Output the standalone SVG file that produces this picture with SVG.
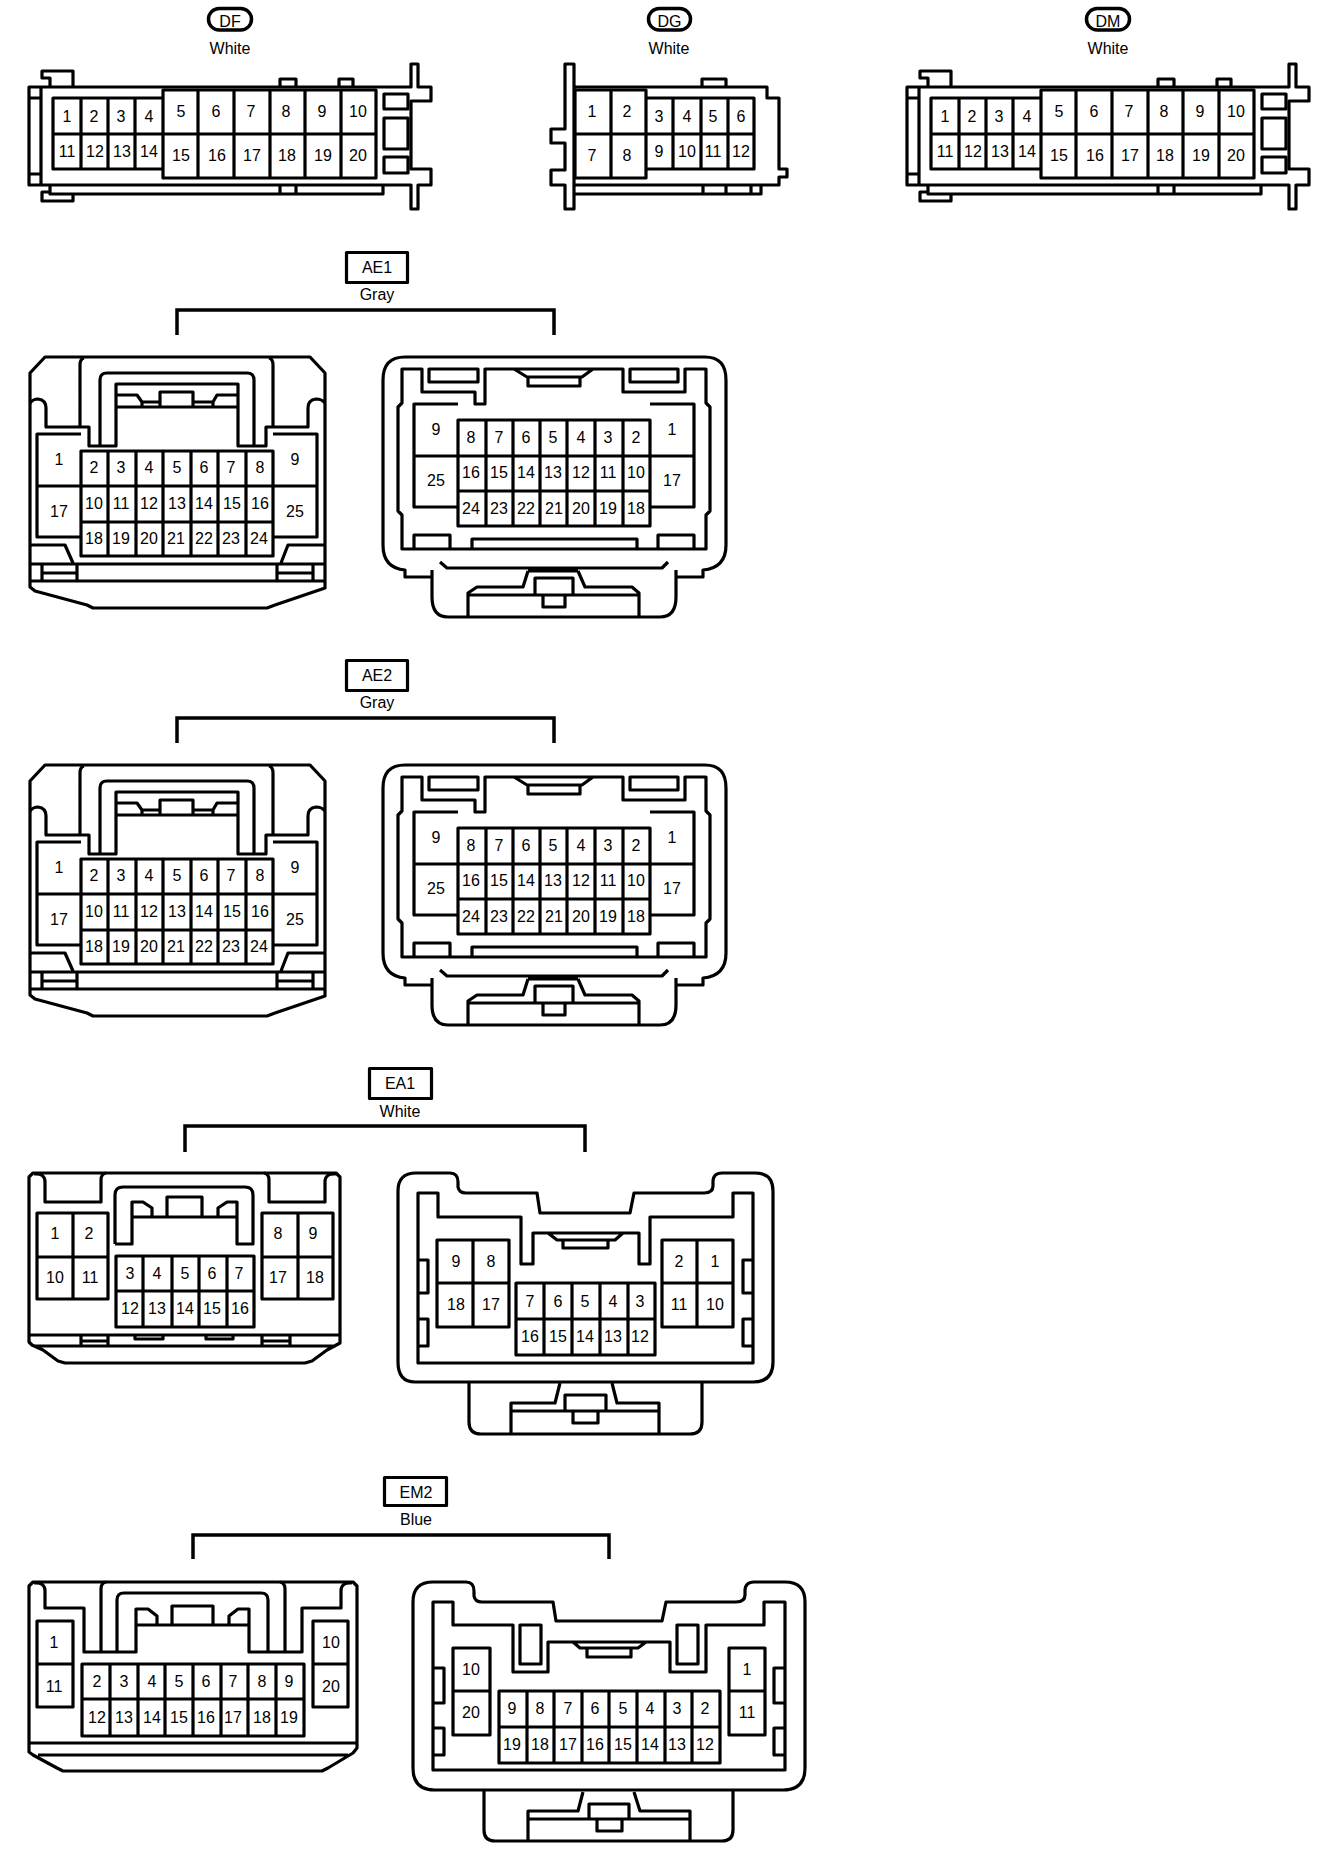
<svg xmlns="http://www.w3.org/2000/svg" width="1344" height="1868" viewBox="0 0 1344 1868">
<style>
.l{fill:none;stroke:#000;stroke-width:3.2;stroke-linejoin:round}
.p{fill:none;stroke:#000;stroke-width:3.5}
.b{fill:none;stroke:#000;stroke-width:3.5;stroke-linejoin:miter}
text{font-family:"Liberation Sans",Arial,sans-serif;font-size:16px;fill:#000;text-anchor:middle}
</style>
<rect width="1344" height="1868" fill="#fff"/>
<g id="connectors">
<path class="b" d="M177 335V310H554V335"/>
<path class="b" d="M177 743V718H554V743"/>
<path class="b" d="M185 1152V1126H585V1152"/>
<path class="b" d="M193 1559V1535H609V1559"/>
</g>
<g id="DF-label"><rect class="p" x="208.500" y="8.500" width="43" height="21.500" rx="10.700"/><text x="230" y="27">DF</text><text x="230" y="54">White</text></g>
<g id="DG-label"><rect class="p" x="648.500" y="8.500" width="42" height="21.500" rx="10.700"/><text x="669.500" y="27">DG</text><text x="669" y="54">White</text></g>
<g id="DM-label"><rect class="p" x="1086.500" y="8.500" width="43" height="21.500" rx="10.700"/><text x="1108" y="27">DM</text><text x="1108" y="54">White</text></g>
<g id="AE1-label"><rect class="l" x="346.500" y="252.500" width="61" height="30"/><text x="377" y="273">AE1</text><text x="377" y="300">Gray</text></g>
<g id="AE2-label"><rect class="l" x="346.500" y="660.500" width="61" height="30"/><text x="377" y="681">AE2</text><text x="377" y="708">Gray</text></g>
<g id="EA1-label"><rect class="l" x="369.500" y="1068.500" width="62" height="30"/><text x="400" y="1089">EA1</text><text x="400" y="1117">White</text></g>
<g id="EM2-label"><rect class="l" x="384.500" y="1477.500" width="62" height="28"/><text x="416" y="1498">EM2</text><text x="416" y="1525">Blue</text></g>

<g id="DF">
<path class="l" d="M29 87H411V64H418V87H431V101H411V169H431V185H418V209H411V185H29ZM41 87V185M29 98H41M29 174H41M50 185V194H383V185M73 87V71H42V78H50V87M50 192H42V201H73V193M280 87V79H296V87M339 87V79H353V87M280 185V194M296 185V194"/>
<path class="l" d="M384 94H408V109H384ZM384 118H408V149H384ZM384 157H408V173H384Z"/>
<path class="l" d="M163 98H53V169H163M53 134H376M81 98V169M108 98V169M135 98V169M163 90H376V178H163ZM198 90V178M234 90V178M270 90V178M305 90V178M341 90V178"/>
<text x="67" y="122">1</text><text x="94" y="122">2</text><text x="121" y="122">3</text><text x="149" y="122">4</text>
<text x="67" y="157">11</text><text x="95" y="157">12</text><text x="122" y="157">13</text><text x="149" y="157">14</text>
<text x="181" y="117">5</text><text x="216" y="117">6</text><text x="251" y="117">7</text><text x="286" y="117">8</text><text x="322" y="117">9</text><text x="358" y="117">10</text>
<text x="181" y="161">15</text><text x="217" y="161">16</text><text x="252" y="161">17</text><text x="287" y="161">18</text><text x="323" y="161">19</text><text x="358" y="161">20</text>
</g>

<g id="DG">
<path class="l" d="M574 87V64H565V129H551V143H565V170H551V185H565V209H574V185M574 87H767V98H779V169H787V177H779V185H574M574 87V185M574 194H761V185M703 185V194M726 185V194M751 185V194M702 87V79H726V87"/>
<path class="l" d="M575 90H646V178H575ZM575 134H754M611 90V178M646 98H754V169H646M673 98V169M701 98V169M728 98V169"/>
<text x="592" y="117">1</text><text x="627" y="117">2</text><text x="592" y="161">7</text><text x="627" y="161">8</text>
<text x="659" y="122">3</text><text x="687" y="122">4</text><text x="713" y="122">5</text><text x="741" y="122">6</text>
<text x="659" y="157">9</text><text x="687" y="157">10</text><text x="713" y="157">11</text><text x="741" y="157">12</text>
</g>

<g id="DM" transform="translate(878 0)">
<path class="l" d="M29 87H411V64H418V87H431V101H411V169H431V185H418V209H411V185H29ZM41 87V185M29 98H41M29 174H41M50 185V194H383V185M73 87V71H42V78H50V87M50 192H42V201H73V193M280 87V79H296V87M339 87V79H353V87M280 185V194M296 185V194"/>
<path class="l" d="M384 94H408V109H384ZM384 118H408V149H384ZM384 157H408V173H384Z"/>
<path class="l" d="M163 98H53V169H163M53 134H376M81 98V169M108 98V169M135 98V169M163 90H376V178H163ZM198 90V178M234 90V178M270 90V178M305 90V178M341 90V178"/>
<text x="67" y="122">1</text><text x="94" y="122">2</text><text x="121" y="122">3</text><text x="149" y="122">4</text>
<text x="67" y="157">11</text><text x="95" y="157">12</text><text x="122" y="157">13</text><text x="149" y="157">14</text>
<text x="181" y="117">5</text><text x="216" y="117">6</text><text x="251" y="117">7</text><text x="286" y="117">8</text><text x="322" y="117">9</text><text x="358" y="117">10</text>
<text x="181" y="161">15</text><text x="217" y="161">16</text><text x="252" y="161">17</text><text x="287" y="161">18</text><text x="323" y="161">19</text><text x="358" y="161">20</text>
</g>

<g id="AE1-left">
<path class="l" d="M45 357H310L325 373V588L275 605 267 608H93L87 605 35 591 30 587V373ZM30 581H325M30 564H325M42 564V581M77 564V581M42 573H77M277 564V581M313 564V581M277 573H313M30 545H65L73 563M325 545H288L281 563"/>
<path class="l" d="M30 403Q33 399 38 399Q46 400 46 408V427H89V446H116V384H238V446H266V427H308V408Q308 400 316 399Q322 399 325 403M80 427V365Q80 359 84 358M273 427V365Q273 359 269 358M100 446V380Q100 373 107 373H247Q254 373 254 380V446"/>
<path class="l" d="M116 395H137L142 402V407M116 407H238M142 402H160M160 407V392H193V407M193 402H213V407M213 402L217 395H238"/>
<path class="l" d="M81 451H273V556H81ZM81 486H273M81 522H273M108 451V556M136 451V556M163 451V556M191 451V556M218 451V556M246 451V556M81 434H37V537H81M37 486H81M273 434H317V537H273M273 486H317"/>
<text x="59" y="465">1</text><text x="59" y="517">17</text><text x="295" y="465">9</text><text x="295" y="517">25</text>
<text x="94" y="473">2</text><text x="121" y="473">3</text><text x="149" y="473">4</text><text x="177" y="473">5</text><text x="204" y="473">6</text><text x="231" y="473">7</text><text x="260" y="473">8</text>
<text x="94" y="509">10</text><text x="121" y="509">11</text><text x="149" y="509">12</text><text x="177" y="509">13</text><text x="204" y="509">14</text><text x="232" y="509">15</text><text x="260" y="509">16</text>
<text x="94" y="544">18</text><text x="121" y="544">19</text><text x="149" y="544">20</text><text x="176" y="544">21</text><text x="204" y="544">22</text><text x="231" y="544">23</text><text x="259" y="544">24</text>
</g>

<g id="AE1-right">
<path class="l" d="M405 570Q383 568 383 545V380Q383 357 405 357H705Q726 357 726 380V545Q726 568 703 570V577H676V597Q676 617 660 617H448Q432 617 432 597V577H405ZM432 570V577M676 570V577"/>
<path class="l" d="M440 562L447 568H662L668 562M528 571H578M528 571L523 587H477L468 593V617M578 571L585 587H632L639 593V617M468 595H639M535 595V578H573V595M543 595V607H565V595"/>
<path class="l" d="M402 369V403L398 407V511L402 515V549H706V515L710 511V407L706 403V369H685V392H623V369H485V404H475V392H422V369ZM514 369L527 377H582L593 369M429 369H478V382H429ZM630 369H678V382H630ZM528 378V386H580V378"/>
<path class="l" d="M414 549V535H450V549M658 549V535H694V549M472 549V539H637V549"/>
<path class="l" d="M458 420H650V526H458ZM458 456H650M458 491H650M486 420V526M513 420V526M540 420V526M567 420V526M595 420V526M623 420V526M458 404H414V507H458M414 456H458M650 404H694V507H650M650 456H694"/>
<text x="436" y="435">9</text><text x="436" y="486">25</text><text x="672" y="435">1</text><text x="672" y="486">17</text>
<text x="471" y="443">8</text><text x="499" y="443">7</text><text x="526" y="443">6</text><text x="553" y="443">5</text><text x="581" y="443">4</text><text x="608" y="443">3</text><text x="636" y="443">2</text>
<text x="471" y="478">16</text><text x="499" y="478">15</text><text x="526" y="478">14</text><text x="553" y="478">13</text><text x="581" y="478">12</text><text x="608" y="478">11</text><text x="636" y="478">10</text>
<text x="471" y="514">24</text><text x="499" y="514">23</text><text x="526" y="514">22</text><text x="554" y="514">21</text><text x="581" y="514">20</text><text x="608" y="514">19</text><text x="636" y="514">18</text>
</g>

<g id="AE2-left" transform="translate(0 408)">
<path class="l" d="M45 357H310L325 373V588L275 605 267 608H93L87 605 35 591 30 587V373ZM30 581H325M30 564H325M42 564V581M77 564V581M42 573H77M277 564V581M313 564V581M277 573H313M30 545H65L73 563M325 545H288L281 563"/>
<path class="l" d="M30 403Q33 399 38 399Q46 400 46 408V427H89V446H116V384H238V446H266V427H308V408Q308 400 316 399Q322 399 325 403M80 427V365Q80 359 84 358M273 427V365Q273 359 269 358M100 446V380Q100 373 107 373H247Q254 373 254 380V446"/>
<path class="l" d="M116 395H137L142 402V407M116 407H238M142 402H160M160 407V392H193V407M193 402H213V407M213 402L217 395H238"/>
<path class="l" d="M81 451H273V556H81ZM81 486H273M81 522H273M108 451V556M136 451V556M163 451V556M191 451V556M218 451V556M246 451V556M81 434H37V537H81M37 486H81M273 434H317V537H273M273 486H317"/>
<text x="59" y="465">1</text><text x="59" y="517">17</text><text x="295" y="465">9</text><text x="295" y="517">25</text>
<text x="94" y="473">2</text><text x="121" y="473">3</text><text x="149" y="473">4</text><text x="177" y="473">5</text><text x="204" y="473">6</text><text x="231" y="473">7</text><text x="260" y="473">8</text>
<text x="94" y="509">10</text><text x="121" y="509">11</text><text x="149" y="509">12</text><text x="177" y="509">13</text><text x="204" y="509">14</text><text x="232" y="509">15</text><text x="260" y="509">16</text>
<text x="94" y="544">18</text><text x="121" y="544">19</text><text x="149" y="544">20</text><text x="176" y="544">21</text><text x="204" y="544">22</text><text x="231" y="544">23</text><text x="259" y="544">24</text>
</g>

<g id="AE2-right" transform="translate(0 408)">
<path class="l" d="M405 570Q383 568 383 545V380Q383 357 405 357H705Q726 357 726 380V545Q726 568 703 570V577H676V597Q676 617 660 617H448Q432 617 432 597V577H405ZM432 570V577M676 570V577"/>
<path class="l" d="M440 562L447 568H662L668 562M528 571H578M528 571L523 587H477L468 593V617M578 571L585 587H632L639 593V617M468 595H639M535 595V578H573V595M543 595V607H565V595"/>
<path class="l" d="M402 369V403L398 407V511L402 515V549H706V515L710 511V407L706 403V369H685V392H623V369H485V404H475V392H422V369ZM514 369L527 377H582L593 369M429 369H478V382H429ZM630 369H678V382H630ZM528 378V386H580V378"/>
<path class="l" d="M414 549V535H450V549M658 549V535H694V549M472 549V539H637V549"/>
<path class="l" d="M458 420H650V526H458ZM458 456H650M458 491H650M486 420V526M513 420V526M540 420V526M567 420V526M595 420V526M623 420V526M458 404H414V507H458M414 456H458M650 404H694V507H650M650 456H694"/>
<text x="436" y="435">9</text><text x="436" y="486">25</text><text x="672" y="435">1</text><text x="672" y="486">17</text>
<text x="471" y="443">8</text><text x="499" y="443">7</text><text x="526" y="443">6</text><text x="553" y="443">5</text><text x="581" y="443">4</text><text x="608" y="443">3</text><text x="636" y="443">2</text>
<text x="471" y="478">16</text><text x="499" y="478">15</text><text x="526" y="478">14</text><text x="553" y="478">13</text><text x="581" y="478">12</text><text x="608" y="478">11</text><text x="636" y="478">10</text>
<text x="471" y="514">24</text><text x="499" y="514">23</text><text x="526" y="514">22</text><text x="554" y="514">21</text><text x="581" y="514">20</text><text x="608" y="514">19</text><text x="636" y="514">18</text>
</g>

<g id="EA1-left">
<path class="l" d="M33 1173H336L340 1177V1343L327 1350 312 1361 305 1363H65L58 1361 43 1350 32 1345 29 1342V1177ZM29 1335H340M34 1346H336M81 1335V1346M108 1335V1346M81 1341H108M262 1335V1346M290 1335V1346M262 1341H290M135 1335V1339H163V1335M206 1335V1339H233V1335"/>
<path class="l" d="M34 1174Q45 1173 45 1182V1202H101V1180Q101 1174 106 1173M336 1174Q325 1173 325 1182V1202H269V1180Q269 1174 264 1173"/>
<path class="l" d="M115 1244V1195Q115 1187 123 1187H245Q253 1187 253 1195V1244H237V1202H227L218 1208V1217M115 1244H132V1202H143L152 1208V1217M132 1217H237M167 1217V1197H202V1217"/>
<path class="l" d="M37 1213H108V1299H37ZM37 1257H108M73 1213V1299M262 1213H333V1299H262ZM262 1257H333M298 1213V1299M116 1256H254V1327H116ZM116 1291H254M143 1256V1327M172 1256V1327M199 1256V1327M227 1256V1327"/>
<text x="55" y="1239">1</text><text x="89" y="1239">2</text><text x="55" y="1283">10</text><text x="90" y="1283">11</text>
<text x="278" y="1239">8</text><text x="313" y="1239">9</text><text x="278" y="1283">17</text><text x="315" y="1283">18</text>
<text x="130" y="1279">3</text><text x="157" y="1279">4</text><text x="185" y="1279">5</text><text x="212" y="1279">6</text><text x="239" y="1279">7</text>
<text x="130" y="1314">12</text><text x="157" y="1314">13</text><text x="185" y="1314">14</text><text x="212" y="1314">15</text><text x="240" y="1314">16</text>
</g>

<g id="EA1-right">
<path class="l" d="M416 1173H450Q458 1173 458 1182V1187Q459 1193 466 1193H537L540 1213H630L634 1193H704Q713 1193 713 1186V1182Q713 1173 722 1173H755Q773 1173 773 1191V1362Q773 1382 753 1382H415Q398 1382 398 1362V1191Q398 1173 416 1173Z"/>
<path class="l" d="M469 1382V1422Q469 1434 481 1434H690Q702 1434 702 1422V1382"/>
<path class="l" d="M418 1193V1363H753V1193H733V1217H650V1264H639V1233H533V1264H521V1217H438V1193ZM548 1233L557 1240H615L623 1233M563 1240V1248H608V1240M418 1260H428V1293H418M418 1319H428V1346H418M753 1260H743V1293H753M753 1319H743V1346H753"/>
<path class="l" d="M560 1383L555 1403H511V1434M612 1383L617 1403H659V1434M511 1411H659M565 1411V1395H606V1411M573 1411V1423H598V1411"/>
<path class="l" d="M437 1240H509V1327H437ZM437 1283H509M473 1240V1327M662 1240H733V1327H662ZM662 1283H733M697 1240V1327M516 1283H655V1355H516ZM516 1319H655M544 1283V1355M572 1283V1355M600 1283V1355M628 1283V1355"/>
<text x="456" y="1267">9</text><text x="491" y="1267">8</text><text x="456" y="1310">18</text><text x="491" y="1310">17</text>
<text x="679" y="1267">2</text><text x="715" y="1267">1</text><text x="679" y="1310">11</text><text x="715" y="1310">10</text>
<text x="530" y="1307">7</text><text x="558" y="1307">6</text><text x="585" y="1307">5</text><text x="613" y="1307">4</text><text x="640" y="1307">3</text>
<text x="530" y="1342">16</text><text x="558" y="1342">15</text><text x="585" y="1342">14</text><text x="613" y="1342">13</text><text x="640" y="1342">12</text>
</g>

<g id="EM2-left">
<path class="l" d="M33 1582H353L357 1586V1748L353 1753 328 1768 322 1771H63L57 1768 33 1755 29 1752V1586ZM29 1743H357M38 1755H348"/>
<path class="l" d="M34 1583Q45 1582 45 1591V1608H84V1652H136V1609H148L157 1616V1625M136 1625H249M229 1625V1616L238 1609H249V1652H302V1608H341V1591Q341 1582 352 1583M172 1625V1606H213V1625M101 1652V1589Q101 1583 106 1582M285 1652V1589Q285 1583 280 1582M117 1652V1600Q117 1593 124 1593H261Q268 1593 268 1600V1652"/>
<path class="l" d="M37 1621H73V1707H37ZM37 1664H73M313 1621H348V1707H313ZM313 1664H348M82 1664H304V1736H82ZM82 1699H304M110 1664V1736M138 1664V1736M165 1664V1736M193 1664V1736M221 1664V1736M248 1664V1736M276 1664V1736"/>
<text x="54" y="1648">1</text><text x="54" y="1692">11</text><text x="331" y="1648">10</text><text x="331" y="1692">20</text>
<text x="97" y="1687">2</text><text x="124" y="1687">3</text><text x="152" y="1687">4</text><text x="179" y="1687">5</text><text x="206" y="1687">6</text><text x="233" y="1687">7</text><text x="262" y="1687">8</text><text x="289" y="1687">9</text>
<text x="97" y="1723">12</text><text x="124" y="1723">13</text><text x="152" y="1723">14</text><text x="179" y="1723">15</text><text x="206" y="1723">16</text><text x="233" y="1723">17</text><text x="262" y="1723">18</text><text x="289" y="1723">19</text>
</g>

<g id="EM2-right">
<path class="l" d="M433 1582H466Q474 1582 474 1591V1596Q475 1602 482 1602H553L556 1621H662L666 1602H736Q745 1602 745 1595V1591Q745 1582 754 1582H785Q805 1582 805 1602V1768Q805 1790 783 1790H435Q413 1790 413 1768V1602Q413 1582 433 1582Z"/>
<path class="l" d="M484 1790V1830Q484 1841 495 1841H722Q733 1841 733 1830V1790"/>
<path class="l" d="M433 1602V1770H785V1602H764V1625H706V1672H670V1642H548V1672H513V1625H453V1602ZM520 1625H541V1664H520ZM677 1625H698V1664H677ZM573 1642L580 1648H638L646 1642M587 1648V1657H631V1648M433 1668H444V1703H433M433 1728H444V1755H433M785 1668H774V1703H785M785 1728H774V1755H785"/>
<path class="l" d="M583 1792L578 1811H528V1841M634 1792L640 1811H690V1841M528 1819H690M589 1819V1804H629V1819M597 1819V1831H622V1819"/>
<path class="l" d="M453 1648H490V1735H453ZM453 1691H490M729 1648H765V1735H729ZM729 1691H765M499 1691H720V1763H499ZM499 1727H720M527 1691V1763M554 1691V1763M582 1691V1763M609 1691V1763M637 1691V1763M665 1691V1763M692 1691V1763"/>
<text x="471" y="1675">10</text><text x="471" y="1718">20</text><text x="747" y="1675">1</text><text x="747" y="1718">11</text>
<text x="512" y="1714">9</text><text x="540" y="1714">8</text><text x="568" y="1714">7</text><text x="595" y="1714">6</text><text x="623" y="1714">5</text><text x="650" y="1714">4</text><text x="677" y="1714">3</text><text x="705" y="1714">2</text>
<text x="512" y="1750">19</text><text x="540" y="1750">18</text><text x="568" y="1750">17</text><text x="595" y="1750">16</text><text x="623" y="1750">15</text><text x="650" y="1750">14</text><text x="677" y="1750">13</text><text x="705" y="1750">12</text>
</g>
</svg>
